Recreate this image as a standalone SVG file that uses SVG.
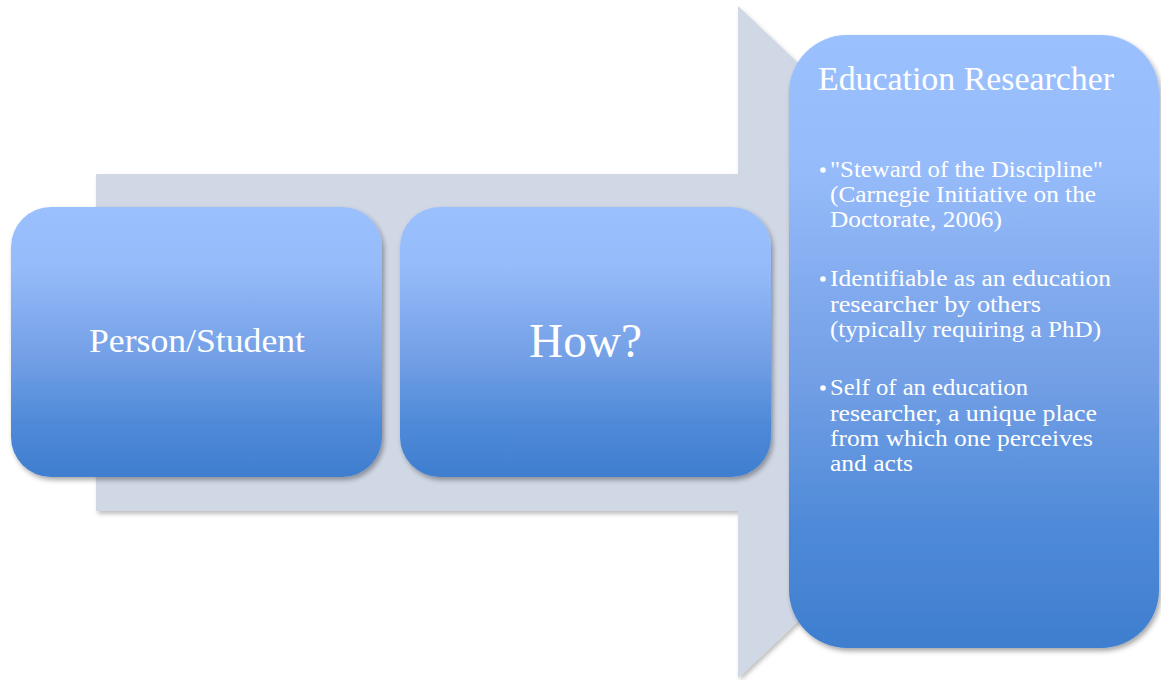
<svg xmlns="http://www.w3.org/2000/svg" width="1161" height="680" viewBox="0 0 1161 680">
  <defs>
    <linearGradient id="boxFill" x1="0" y1="0" x2="0" y2="1">
      <stop offset="0" stop-color="#9BC0FE"/>
      <stop offset="0.22" stop-color="#96BBFA"/>
      <stop offset="0.55" stop-color="#74A0E6"/>
      <stop offset="0.8" stop-color="#4F8AD8"/>
      <stop offset="1" stop-color="#3F7ECF"/>
    </linearGradient>
    <filter id="shadow" x="-10%" y="-10%" width="120%" height="120%">
      <feDropShadow dx="2" dy="3" stdDeviation="2.5" flood-color="#000" flood-opacity="0.35"/>
    </filter>
    <filter id="arrowShadow" x="-5%" y="-5%" width="110%" height="110%">
      <feDropShadow dx="2" dy="3" stdDeviation="2" flood-color="#000" flood-opacity="0.25"/>
    </filter>
  </defs>
  <style>
    .box { fill: url(#boxFill); filter: url(#shadow); }
    .label { font-family: "Liberation Serif", "DejaVu Serif", serif; fill: #FFFFFF; }
    .bullet { font-family: "Liberation Serif", "DejaVu Serif", serif; fill: #FFFFFF; font-size: 23px; }
    .dot { fill: #FFFFFF; }
  </style>

  <!-- background block arrow -->
  <g id="connectors">
    <path d="M96,174 H738 V6 L1094,342 L738,678 V511 H96 Z" fill="#D0D7E5" filter="url(#arrowShadow)"/>
  </g>

  <g id="node-person">
    <rect class="box" x="11" y="207" width="371" height="270" rx="40" ry="40"/>
    <text class="label" x="89" y="352" font-size="33" textLength="216" lengthAdjust="spacingAndGlyphs">Person/Student</text>
  </g>

  <g id="node-how">
    <rect class="box" x="400" y="207" width="371" height="270" rx="40" ry="40"/>
    <text class="label" x="529" y="357" font-size="48" textLength="113" lengthAdjust="spacingAndGlyphs">How?</text>
  </g>

  <g id="node-researcher">
    <rect class="box" x="789" y="35" width="370" height="613" rx="58" ry="58"/>
    <text class="label" x="818" y="90" font-size="33" textLength="296" lengthAdjust="spacingAndGlyphs">Education Researcher</text>

    <circle class="dot" cx="823" cy="170" r="2.8"/>
    <text class="bullet" x="830" y="177" textLength="273" lengthAdjust="spacingAndGlyphs">"Steward of the Discipline"</text>
    <text class="bullet" x="830" y="202" textLength="266" lengthAdjust="spacingAndGlyphs">(Carnegie Initiative on the</text>
    <text class="bullet" x="830" y="227" textLength="172" lengthAdjust="spacingAndGlyphs">Doctorate, 2006)</text>

    <circle class="dot" cx="823" cy="279" r="2.8"/>
    <text class="bullet" x="830" y="286" textLength="281" lengthAdjust="spacingAndGlyphs">Identifiable as an education</text>
    <text class="bullet" x="830" y="312" textLength="211" lengthAdjust="spacingAndGlyphs">researcher by others</text>
    <text class="bullet" x="830" y="337" textLength="271" lengthAdjust="spacingAndGlyphs">(typically requiring a PhD)</text>

    <circle class="dot" cx="823" cy="388" r="2.8"/>
    <text class="bullet" x="830" y="395" textLength="198" lengthAdjust="spacingAndGlyphs">Self of an education</text>
    <text class="bullet" x="830" y="421" textLength="267" lengthAdjust="spacingAndGlyphs">researcher, a unique place</text>
    <text class="bullet" x="830" y="446" textLength="263" lengthAdjust="spacingAndGlyphs">from which one perceives</text>
    <text class="bullet" x="830" y="471" textLength="83" lengthAdjust="spacingAndGlyphs">and acts</text>
  </g>
</svg>
